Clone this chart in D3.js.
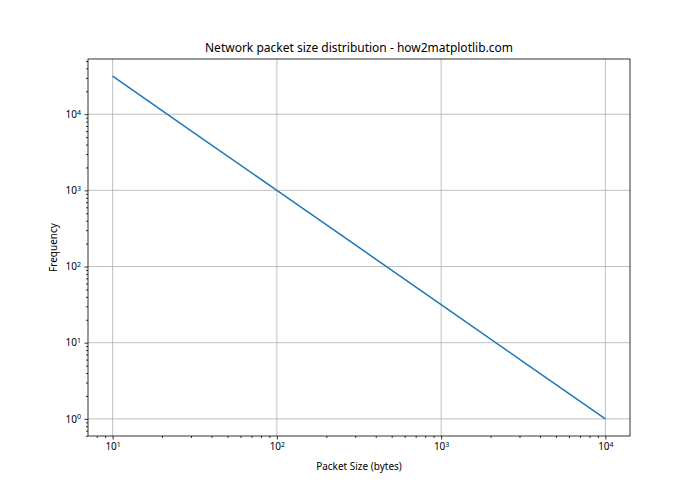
<!DOCTYPE html>
<html lang="en">
<head>
<meta charset="UTF-8">
<title>Network packet size distribution</title>
<script src="https://d3js.org/d3.v7.min.js"></script>
<style>
  body { margin: 0; background: #fff; }
  text { font-family: "Noto Sans", "DejaVu Sans", sans-serif; fill: #000; }
</style>
</head>
<body>
<div id="chart"></div>
<script>
// data (straight line on log-log axes)
var packetSizes = [10, 31.6, 100, 316, 1000, 3162, 10000];
var frequencies = [31623, 5623, 1000, 178, 31.6, 5.62, 1];
var xTicks = [10, 100, 1000, 10000];
var yTicks = [1, 10, 100, 1000, 10000];

var W = 700, H = 490;
var margin = {top: 59, right: 70, bottom: 54, left: 88};
var width = W - margin.left - margin.right,
    height = H - margin.top - margin.bottom;

var svg = d3.select("#chart").append("svg")
    .attr("width", W).attr("height", H);
var g = svg.append("g")
    .attr("transform", "translate(" + margin.left + "," + margin.top + ")");

// log scales with matplotlib-like 5% padding in log space
function padLog(lo, hi) {
  var a = Math.log10(lo), b = Math.log10(hi), p = (b - a) * 0.05;
  return [Math.pow(10, a - p), Math.pow(10, b + p)];
}
var x = d3.scaleLog().domain(padLog(d3.min(packetSizes), d3.max(packetSizes))).range([0, width]);
var y = d3.scaleLog().domain(padLog(d3.min(frequencies), d3.max(frequencies))).range([height, 0]);

// minor ticks: 2..9 times each decade, inside domain
function minorTicks(scale) {
  var d = scale.domain(), out = [];
  for (var e = Math.floor(Math.log10(d[0])) - 1; e <= Math.ceil(Math.log10(d[1])); e++) {
    for (var k = 2; k < 10; k++) {
      var v = k * Math.pow(10, e);
      if (v >= d[0] && v <= d[1]) out.push(v);
    }
  }
  return out;
}

// grid
g.append("g").selectAll("line").data(xTicks).enter().append("line")
    .attr("x1", function(d) { return x(d); }).attr("x2", function(d) { return x(d); })
    .attr("y1", 0).attr("y2", height)
    .attr("stroke", "#b0b0b0").attr("stroke-width", 0.8);
g.append("g").selectAll("line").data(yTicks).enter().append("line")
    .attr("y1", function(d) { return y(d); }).attr("y2", function(d) { return y(d); })
    .attr("x1", 0).attr("x2", width)
    .attr("stroke", "#b0b0b0").attr("stroke-width", 0.8);

// line
var line = d3.line()
    .x(function(d, i) { return x(packetSizes[i]); })
    .y(function(d) { return y(d); });
g.append("path")
    .datum(frequencies)
    .attr("d", line)
    .attr("fill", "none")
    .attr("stroke", "#1f77b4")
    .attr("stroke-width", 1.5);

// superscript tick labels like 10^n
function powLabel(sel) {
  sel.each(function(d) {
    var t = d3.select(this).text("");
    t.append("tspan").text("10");
    t.append("tspan").attr("dy", "-0.45em").attr("font-size", "7px")
      .text(Math.round(Math.log10(d)));
  });
}

// x axis
var xAxis = g.append("g").attr("transform", "translate(0," + height + ")");
xAxis.call(d3.axisBottom(x).tickValues(xTicks).tickSize(3.5).tickPadding(3.5).tickFormat(function() { return ""; }));
xAxis.selectAll(".tick text").attr("font-size", "10px").attr("font-family", null).call(powLabel);
var xMinor = xAxis.append("g").call(d3.axisBottom(x).tickValues(minorTicks(x)).tickSize(2).tickFormat(""));
xMinor.selectAll("text").remove();

// y axis
var yAxis = g.append("g");
yAxis.call(d3.axisLeft(y).tickValues(yTicks).tickSize(3.5).tickPadding(3.5).tickFormat(function() { return ""; }));
yAxis.selectAll(".tick text").attr("font-size", "10px").attr("font-family", null).call(powLabel);
var yMinor = yAxis.append("g").call(d3.axisLeft(y).tickValues(minorTicks(y)).tickSize(2).tickFormat(""));
yMinor.selectAll("text").remove();

svg.selectAll(".domain").remove();
svg.selectAll(".tick line").attr("stroke", "#000").attr("stroke-width", 0.8);

// frame
g.append("rect")
    .attr("width", width).attr("height", height)
    .attr("fill", "none").attr("stroke", "#000").attr("stroke-width", 0.8);

// title and labels
svg.append("text")
    .attr("x", margin.left + width / 2).attr("y", margin.top - 7)
    .attr("text-anchor", "middle").attr("font-size", "12px")
    .text("Network packet size distribution - how2matplotlib.com");
svg.append("text")
    .attr("x", margin.left + width / 2).attr("y", 470)
    .attr("text-anchor", "middle").attr("font-size", "10px")
    .text("Packet Size (bytes)");
svg.append("text")
    .attr("transform", "translate(57," + (margin.top + height / 2) + ") rotate(-90)")
    .attr("text-anchor", "middle").attr("font-size", "10px")
    .text("Frequency");
</script>
</body>
</html>
